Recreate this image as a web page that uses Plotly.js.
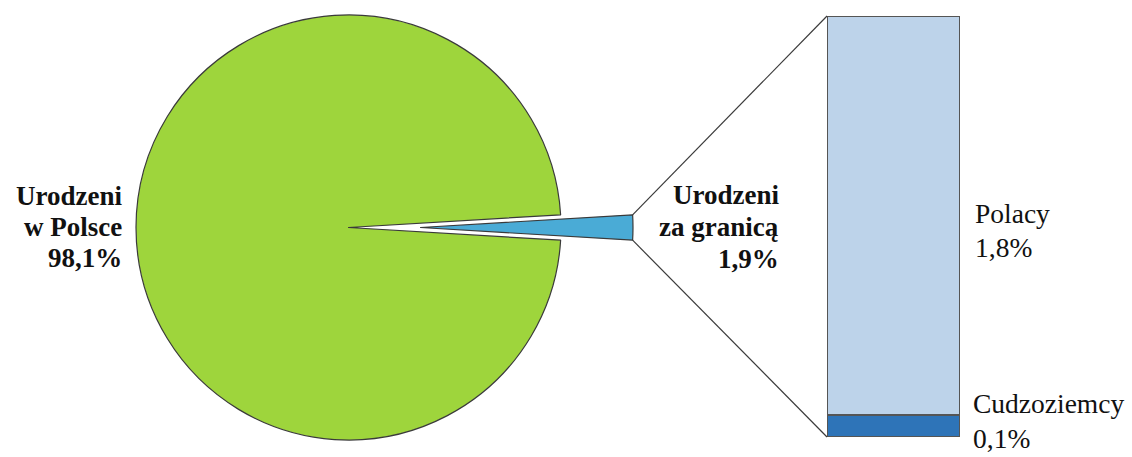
<!DOCTYPE html>
<html>
<head>
<meta charset="utf-8">
<script src="https://cdn.plot.ly/plotly-3.0.1.min.js"></script>
<style>html,body{margin:0;padding:0;background:#fff;}#chart{width:1132px;height:457px;}</style>
</head>
<body>
<div id="chart"></div>
<script>
// ---- data ----
const pieLabels = ["Urodzeni za granicą", "Urodzeni w Polsce"];
const pieValues = [1.9, 98.1];
const barLabels = ["Cudzoziemcy", "Polacy"];
const barValues = [0.1, 1.8];
const pieTextLeft = ["Urodzeni", "w Polsce", "98,1%"];
const pieTextRight = ["Urodzeni", "za granicą", "1,9%"];
const barTextTop = ["Polacy", "1,8%"];
const barTextBottom = ["Cudzoziemcy", "0,1%"];

// ---- layout geometry (pixels) ----
const W = 1132, H = 457;
const pieCx = 348.5, pieCy = 227.5, pieR = 212.5, pullPx = 72;
const barL = 827, barR = 960, barT = 16, barB = 437;

const px = v => v / W;
const py = v => 1 - v / H;

const pieTotal = pieValues.reduce((a, b) => a + b, 0);
const barTotal = barValues.reduce((a, b) => a + b, 0);
const smallFrac = pieValues[0] / pieTotal;
const rot = 90 - smallFrac * 180;

const GREEN = "#9ed53c", BLUE = "#4aabd6", LIGHT = "#bdd3ea", DARK = "#2e74b8", EDGE = "#3a3a3a";
const CLEAR = "rgba(0,0,0,0)";

function pieDomain(cx) {
  return { x: [px(cx - pieR), px(cx + pieR)], y: [py(pieCy + pieR), py(pieCy - pieR)] };
}

const traces = [
  {
    type: "pie", labels: pieLabels, values: pieValues, sort: false,
    direction: "clockwise", rotation: rot, textinfo: "none", hoverinfo: "label+percent",
    domain: pieDomain(pieCx), showlegend: false,
    marker: { colors: [CLEAR, GREEN], line: { color: EDGE, width: [0, 1.2] } }
  },
  {
    type: "pie", labels: pieLabels, values: pieValues, sort: false,
    direction: "clockwise", rotation: rot, textinfo: "none", hoverinfo: "label+percent",
    domain: pieDomain(pieCx + pullPx), showlegend: false,
    marker: { colors: [BLUE, CLEAR], line: { color: EDGE, width: [1.2, 0] } }
  },
  {
    type: "bar", x: [0], y: [barValues[0]], name: barLabels[0], width: 1,
    xaxis: "x2", yaxis: "y2", showlegend: false,
    marker: { color: DARK, line: { color: "#555", width: 1.6 } }
  },
  {
    type: "bar", x: [0], y: [barValues[1]], name: barLabels[1], width: 1,
    xaxis: "x2", yaxis: "y2", showlegend: false,
    marker: { color: LIGHT, line: { color: "#555", width: 1.6 } }
  }
];

// connector lines from the pulled slice corners to the bar corners
const half = smallFrac * Math.PI;
const tipX = pieCx + pullPx + pieR * Math.cos(half);
const tipDy = pieR * Math.sin(half);
const shapes = [
  { type: "line", xref: "paper", yref: "paper", x0: px(tipX), y0: py(pieCy - tipDy), x1: px(barL), y1: py(barT), line: { color: EDGE, width: 1.2 } },
  { type: "line", xref: "paper", yref: "paper", x0: px(tipX), y0: py(pieCy + tipDy), x1: px(barL), y1: py(barB), line: { color: EDGE, width: 1.2 } }
];

const FONT = "'Liberation Serif', 'Times New Roman', Times, serif";
const annotations = [];
function addLines(lines, x, ys, anchor, bold, size) {
  lines.forEach((t, i) => {
    annotations.push({
      xref: "paper", yref: "paper", x: px(x), y: py(ys[i]), xanchor: anchor, yanchor: "middle",
      showarrow: false, text: bold ? "<b>" + t + "</b>" : t,
      font: { family: FONT, size: size, color: "#111" }
    });
  });
}
addLines(pieTextLeft, 124, [196, 227, 258], "right", true, 27);
addLines(pieTextRight, 781, [195, 227, 259], "right", true, 27);
addLines(barTextTop, 973, [213, 247], "left", false, 27.5);
addLines(barTextBottom, 971, [403, 438], "left", false, 27.5);

const layout = {
  width: W, height: H,
  margin: { l: 0, r: 0, t: 0, b: 0 },
  paper_bgcolor: "#fff", plot_bgcolor: "rgba(0,0,0,0)",
  barmode: "stack", showlegend: false,
  xaxis: { visible: false },
  yaxis: { visible: false },
  xaxis2: { domain: [px(barL), px(barR)], range: [-0.5, 0.5], visible: false, anchor: "y2", fixedrange: true },
  yaxis2: { domain: [py(barB), py(barT)], range: [0, barTotal], visible: false, anchor: "x2", fixedrange: true },
  shapes: shapes,
  annotations: annotations
};

Plotly.newPlot("chart", traces, layout, { displayModeBar: false, staticPlot: true });
</script>
</body>
</html>
